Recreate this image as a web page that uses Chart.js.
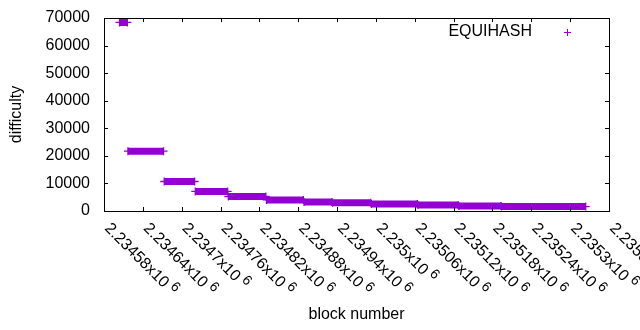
<!DOCTYPE html>
<html>
<head>
<meta charset="utf-8">
<script src="https://cdn.jsdelivr.net/npm/chart.js@4.4.1/dist/chart.umd.min.js"></script>
<style>
  html, body { margin: 0; padding: 0; background: #fff; }
  #wrap { width: 640px; height: 330px; }
</style>
</head>
<body>
<div id="wrap"><canvas id="grafico" width="640" height="330"></canvas></div>
<script>
/* =====================================================
   Datos (bloques por escalon)
===================================================== */
const SERIE = "EQUIHASH"
const BLOQUE_INICIO = [2234604, 2234617, 2234673, 2234721, 2234772, 2234831, 2234889, 2234933, 2234993, 2235065, 2235128, 2235194]
const BLOQUE_FIN    = [2234616, 2234672, 2234720, 2234771, 2234830, 2234888, 2234932, 2234992, 2235064, 2235127, 2235193, 2235324]
const DIFICULTAD    = [68400, 21700, 10700, 7100, 5260, 4020, 3250, 3000, 2550, 2190, 1830, 1600]

const X_MIN = 2234580
const X_MAX = 2235360
const X_PASO = 60
const X_ETIQUETAS = ["2.23458", "2.23464", "2.2347", "2.23476", "2.23482", "2.23488", "2.23494",
                     "2.235", "2.23506", "2.23512", "2.23518", "2.23524", "2.2353", "2.23536"]
const X_EXPONENTE = "6"
const Y_TICKS = [0, 10000, 20000, 30000, 40000, 50000, 60000, 70000]

const MORADO = "#9400d3"
const FUENTE = '"Liberation Sans", Arial, sans-serif'

// puntos de cada escalon, separados por un hueco
const puntos = []
BLOQUE_INICIO.forEach((b, i) => {
  puntos.push({ x: b, y: DIFICULTAD[i] })
  puntos.push({ x: BLOQUE_FIN[i], y: DIFICULTAD[i] })
  puntos.push({ x: BLOQUE_FIN[i], y: null })
})

/* =====================================================
   Marco, ticks, etiquetas rotadas y leyenda (estilo gnuplot)
===================================================== */
const marcoGnuplot = {
  id: "marcoGnuplot",
  afterDraw(chart) {
    const ctx = chart.ctx
    const a = chart.chartArea
    const sx = chart.scales.x
    const sy = chart.scales.y

    ctx.save()
    ctx.strokeStyle = "#000"
    ctx.lineWidth = 1
    ctx.strokeRect(Math.round(a.left) + 0.5, Math.round(a.top) + 0.5,
                   Math.round(a.right - a.left), Math.round(a.bottom - a.top))

    ctx.beginPath()
    sx.ticks.forEach(t => {
      const px = Math.round(sx.getPixelForValue(t.value)) + 0.5
      ctx.moveTo(px, a.bottom); ctx.lineTo(px, a.bottom - 4)
      ctx.moveTo(px, a.top); ctx.lineTo(px, a.top + 4)
    })
    sy.ticks.forEach(t => {
      const py = Math.round(sy.getPixelForValue(t.value)) + 0.5
      ctx.moveTo(a.left, py); ctx.lineTo(a.left + 4, py)
      ctx.moveTo(a.right, py); ctx.lineTo(a.right - 4, py)
    })
    ctx.stroke()

    // etiquetas del eje x rotadas -45
    ctx.fillStyle = "#000"
    sx.ticks.forEach((t, i) => {
      const px = sx.getPixelForValue(t.value)
      const txt = X_ETIQUETAS[i] + "x10"
      ctx.save()
      ctx.translate(px + 3, a.bottom + 15)
      ctx.rotate(Math.PI / 4)
      ctx.textAlign = "left"
      ctx.textBaseline = "middle"
      ctx.font = "16px " + FUENTE
      ctx.fillText(txt, 0, 0)
      const w = ctx.measureText(txt).width
      ctx.font = "14px " + FUENTE
      ctx.fillText(X_EXPONENTE, w + 4, -5)
      ctx.restore()
    })

    // titulos de ejes
    ctx.font = "16px " + FUENTE
    ctx.textAlign = "center"
    ctx.textBaseline = "middle"
    ctx.fillText("block number", (a.left + a.right) / 2, 315)
    ctx.save()
    ctx.translate(17, (a.top + a.bottom) / 2)
    ctx.rotate(-Math.PI / 2)
    ctx.fillText("difficulty", 0, 0)
    ctx.restore()

    // leyenda
    ctx.textAlign = "right"
    ctx.fillText(SERIE, 532, 32)
    ctx.strokeStyle = MORADO
    ctx.beginPath()
    ctx.moveTo(564, 32.5); ctx.lineTo(571, 32.5)
    ctx.moveTo(567.5, 29); ctx.lineTo(567.5, 36)
    ctx.stroke()
    ctx.restore()
  }
}

let chartDif

document.addEventListener("DOMContentLoaded", () => {
  chartDif = new Chart(document.getElementById("grafico"), {
    type: "scatter",
    data: {
      datasets: [{
        label: SERIE,
        data: puntos,
        showLine: true,
        spanGaps: false,
        borderColor: MORADO,
        borderWidth: 7,
        borderCapStyle: "butt",
        pointStyle: "cross",
        pointRadius: 4,
        pointBorderWidth: 1.3,
        pointBorderColor: MORADO,
        pointBackgroundColor: MORADO,
      }]
    },
    options: {
      responsive: false,
      animation: false,
      layout: { padding: { top: 18, right: 31, left: 0, bottom: 0 } },
      plugins: { legend: { display: false }, tooltip: { enabled: false } },
      scales: {
        x: {
          type: "linear",
          min: X_MIN,
          max: X_MAX,
          ticks: { stepSize: X_PASO, display: false },
          grid: { display: false, drawTicks: false },
          border: { display: false },
          afterFit: s => { s.height = 119; s.paddingLeft = 0; s.paddingRight = 0 },
        },
        y: {
          min: 0,
          max: 70000,
          afterBuildTicks: s => { s.ticks = Y_TICKS.map(v => ({ value: v })) },
          ticks: {
            padding: 14, color: "#000", font: { family: FUENTE, size: 16 },
            callback: v => String(v)
          },
          grid: { display: false, drawTicks: false },
          border: { display: false },
          afterFit: s => { s.width = 104; s.paddingTop = 0; s.paddingBottom = 0 },
        }
      }
    },
    plugins: [marcoGnuplot]
  })
})
</script>
</body>
</html>
